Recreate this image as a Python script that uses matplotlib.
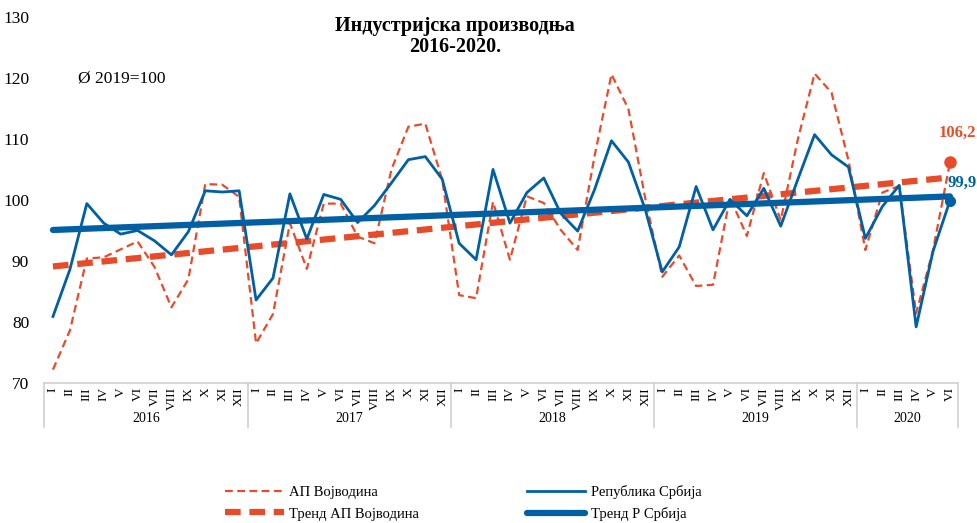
import numpy as np
import matplotlib
matplotlib.use('Agg')
import matplotlib.pyplot as plt
import matplotlib.transforms as mtransforms

# data (index, 2019 average = 100)
months = ['I', 'II', 'III', 'IV', 'V', 'VI', 'VII', 'VIII', 'IX', 'X', 'XI', 'XII']
years = ['2016', '2017', '2018', '2019', '2020']
months_per_year = [12, 12, 12, 12, 6]

vojvodina = [72.2, 78.6, 90.4, 90.6, 91.9, 93.2, 89.0, 82.4, 87.0, 102.6, 102.5, 100.5,
             76.5, 81.3, 96.2, 88.7, 99.4, 99.4, 94.0, 92.9, 105.0, 112.0, 112.5, 103.3,
             84.4, 83.9, 99.7, 90.2, 100.6, 99.5, 95.1, 91.8, 107.2, 120.6, 114.9, 100.2,
             87.4, 90.9, 85.9, 86.1, 100.4, 94.1, 104.4, 96.7, 109.8, 120.7, 117.6, 106.5,
             91.8, 101.2, 102.3, 81.4, 91.8, 106.2]
srbija = [80.9, 88.6, 99.4, 96.2, 94.4, 95.0, 93.3, 91.0, 94.8, 101.5, 101.3, 101.5,
          83.6, 87.2, 101.0, 93.6, 100.9, 100.1, 96.3, 99.1, 102.8, 106.6, 107.1, 103.4,
          92.9, 90.2, 105.0, 96.2, 101.2, 103.6, 97.8, 94.9, 101.7, 109.7, 106.2, 98.4,
          88.2, 92.3, 102.2, 95.1, 100.1, 97.4, 101.9, 95.7, 103.3, 110.7, 107.4, 105.4,
          93.7, 98.9, 102.4, 79.2, 91.6, 99.9]

red = '#E84B2A'
blue = '#0060A3'
plt.rcParams['font.family'] = ['Liberation Serif', 'DejaVu Serif']

x = np.arange(len(srbija))
tick_labels = [m for n in months_per_year for m in months[:n]]

fig = plt.figure(figsize=(9.78, 5.23), dpi=100)
ax = fig.add_axes([0.0455, 0.2677, 0.9345, 0.70])

# linear trends
k_v, b_v = np.polyfit(x, vojvodina, 1)
k_s, b_s = np.polyfit(x, srbija, 1)

ax.plot(x, vojvodina, color=red, lw=1.6, dashes=(3.5, 2), label='АП Војводина')
ax.plot(x, k_v * x + b_v, color=red, lw=4.5, dashes=(2.5, 1.4),
        label='Тренд АП Војводина')
ax.plot(x, srbija, color=blue, lw=2.0, label='Република Србија')
ax.plot(x, k_s * x + b_s, color=blue, lw=4.5, solid_capstyle='round',
        label='Тренд Р Србија')

# last values highlighted
ax.plot(x[-1], vojvodina[-1], 'o', color=red, ms=8, zorder=5)
ax.plot(x[-1], srbija[-1], 'o', color=blue, ms=7, zorder=5)
ax.annotate(f'{vojvodina[-1]:.1f}'.replace('.', ','), (x[-1], vojvodina[-1]),
            xytext=(5, 21), textcoords='offset points', ha='center', va='center',
            color=red, fontsize=12, fontweight='bold', annotation_clip=False)
ax.annotate(f'{srbija[-1]:.1f}'.replace('.', ','), (x[-1], srbija[-1]),
            xytext=(9, 13), textcoords='offset points', ha='center', va='center',
            color=blue, fontsize=12, fontweight='bold', annotation_clip=False)

ax.set_xlim(-0.5, len(x) - 0.5)
ax.set_ylim(70, 130)
ax.set_yticks(range(70, 131, 10))
ax.tick_params(axis='y', length=0, labelsize=12.5, pad=11)
ax.set_xticks(x)
ax.set_xticklabels(tick_labels, rotation=90, fontsize=9.5)
ax.tick_params(axis='x', length=0, pad=3)

for side in ['top', 'right', 'left']:
    ax.spines[side].set_visible(False)
ax.spines['bottom'].set_color('#D0D0D0')
ax.spines['bottom'].set_linewidth(1.2)

# year separators and year labels
trans = mtransforms.blended_transform_factory(ax.transData, ax.transAxes)
start = -0.5
for yr, n in zip(years, months_per_year):
    ax.plot([start, start], [0, -0.12], transform=trans, color='#D0D0D0',
            lw=1.2, clip_on=False)
    ax.text(start + n / 2, -0.096, yr, transform=trans, ha='center',
            va='center', fontsize=10)
    start += n
ax.plot([start, start], [0, -0.12], transform=trans, color='#D0D0D0',
        lw=1.2, clip_on=False)

fig.text(0.465, 0.950, 'Индустријска производња', ha='center', va='center',
         fontsize=14.5, fontweight='bold')
fig.text(0.465, 0.910, '2016-2020.', ha='center', va='center',
         fontsize=14.5, fontweight='bold')
ax.text(0.037, 0.833, 'Ø 2019=100', transform=ax.transAxes, fontsize=12.5,
        va='center')

h, l = ax.get_legend_handles_labels()
fig.legend(h, l, ncol=2, loc='lower center', bbox_to_anchor=(0.474, -0.022),
           frameon=False, fontsize=10.5, handlelength=4.0, columnspacing=7.4,
           handletextpad=0.4, labelspacing=0.55)

fig.savefig('out.png', dpi=100)
